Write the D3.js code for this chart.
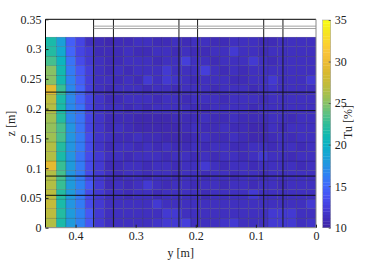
<!DOCTYPE html>
<html><head><meta charset="utf-8">
<script src="https://cdn.jsdelivr.net/npm/d3@7/dist/d3.min.js"></script>
<style>body{margin:0;background:#fff}svg{display:block}</style>
</head><body><svg id="c" width="374" height="262"></svg>
<script>
// cell edges (m)
const yEdges = [0.45,0.432,0.416,0.400,0.384,0.368,0.352,0.336,0.320,0.304,0.288,0.272,0.256,0.240,0.224,0.208,0.192,0.176,0.160,0.144,0.128,0.112,0.096,0.080,0.064,0.048,0.032,0.016,0];
const zEdges = [0,0.016,0.032,0.048,0.064,0.080,0.096,0.112,0.128,0.144,0.160,0.176,0.192,0.208,0.224,0.240,0.256,0.272,0.288,0.304,0.320];
// near-wall columns (left, y high) bottom -> top
const col0 = [26.5,27,27.5,27,26.5,26.5,29.5,26.5,26.5,26,25.5,26,26.5,27,29.5,25,25,23,22,21.5];
const col1 = [21.5,22,21.5,22,22.5,23,22.5,21.5,22,23,23,22,21.5,21.5,22.5,21,21,20.5,19,18.5];
const col2 = [18,18,17.5,18,18,17.5,18,17.5,17.5,17.5,17.5,17,17,17,16.8,16.5,16,15.5,15,14.5];
const col3 = [16.5,16.5,16,16,16.5,16,16,15.5,16,16,15.5,15.5,15.5,15,15,14.5,14,13.5,13,12.8];
const col4 = [14,14,13.5,13.5,14,13.5,13.5,13.5,13.5,13.5,13,13,13,13,12.5,12.5,12.5,12,12,11.5];
const col5 = [12.3,12.3,12.2,12.2,12.3,12.2,12.1,12,11.9,11.8,11.7,11.6,11.6,11.6,11.5,11.5,11.4,11.3,11.1,10.9];
// remaining columns (y 0.352 -> 0), rows bottom -> top
const coreRows = [
[11.5,11.4,11.3,11.5,11.4,11.6,12.3,12.3,12.4,11.5,11.4,11.5,11.6,12.3,11.5,11.4,11.5,12.2,12.3,12.2,11.5,11.6],
[11.4,11.3,11.2,11.4,11.3,11.5,12.0,12.0,11.4,11.3,11.4,11.3,11.5,11.4,11.3,11.4,11.5,12.0,12.0,12.0,11.4,11.5],
[11.3,11.2,11.4,11.3,11.2,12.3,11.4,11.3,11.2,11.4,11.3,11.2,11.4,11.3,11.2,11.4,11.3,11.2,11.3,11.4,11.3,12.3],
[11.2,11.3,11.1,11.2,11.3,11.1,11.2,11.4,11.3,11.2,11.1,11.3,11.2,11.4,11.3,12.2,11.2,11.3,11.4,11.2,11.3,11.4],
[11.1,11.2,11.0,11.3,12.3,11.2,11.1,11.3,11.2,11.1,11.3,11.2,11.1,11.3,11.2,11.1,11.3,11.2,11.1,11.3,11.2,11.4],
[11.2,11.1,11.3,11.2,11.0,11.3,11.2,11.1,11.3,11.2,11.1,11.3,11.2,11.1,11.2,11.3,11.1,11.2,11.3,11.2,11.4,11.2],
[11.1,11.0,11.2,11.3,11.1,11.2,11.3,11.0,11.2,11.3,12.3,11.2,11.1,11.2,11.3,11.1,11.2,11.4,11.2,11.3,11.1,11.3],
[11.2,11.3,11.1,11.2,11.3,11.2,11.1,11.2,11.3,11.1,11.2,11.0,11.2,11.3,11.1,11.2,12.2,11.3,11.2,11.1,11.3,11.2],
[11.1,11.2,11.3,11.1,11.2,11.0,11.2,11.1,11.0,11.2,11.1,11.3,11.2,11.1,11.0,11.2,11.3,11.1,11.2,11.3,11.1,11.4],
[11.2,11.0,11.1,11.2,11.0,11.1,10.7,10.6,10.7,11.0,11.2,11.1,11.0,11.2,11.0,10.7,10.6,11.0,11.2,11.1,11.3,11.2],
[11.1,11.2,11.0,10.6,10.7,10.6,10.7,10.6,10.9,11.2,11.0,11.1,11.2,11.0,11.0,10.7,10.6,11.2,11.1,11.3,11.2,11.4],
[11.0,11.1,11.0,10.7,10.6,10.7,10.6,10.8,11.0,11.1,11.2,11.0,11.1,11.2,11.0,11.1,10.9,11.2,11.3,11.1,11.2,11.3],
[11.2,11.3,11.1,11.2,11.0,11.2,11.3,11.4,11.2,11.0,11.1,11.3,11.2,11.4,11.3,11.1,11.2,11.4,11.3,11.2,11.4,11.5],
[11.1,11.0,11.2,11.4,11.3,11.1,11.2,11.3,11.0,11.2,11.4,11.3,11.1,11.2,11.3,11.2,11.0,11.3,11.4,11.2,11.5,11.3],
[11.0,11.2,11.3,11.2,11.1,11.4,11.3,11.1,11.2,11.3,11.2,11.0,11.2,11.3,11.2,11.1,11.3,11.9,11.2,11.4,11.3,11.5],
[11.2,11.0,11.3,11.1,12.2,11.3,12.0,11.6,11.2,11.1,11.3,11.2,11.4,11.1,11.0,11.3,11.4,12.0,11.3,11.4,11.5,12.2],
[11.1,11.2,11.0,11.3,11.2,11.4,12.0,11.2,11.3,11.2,12.4,11.3,11.0,11.2,11.1,11.3,11.2,11.4,11.3,11.5,11.2,11.4],
[11.0,11.1,11.2,11.3,11.2,11.0,11.2,11.4,12.4,11.3,11.2,11.0,11.2,11.3,11.4,12.0,11.2,11.1,11.3,11.2,11.4,11.3],
[10.9,11.0,11.2,11.0,11.1,11.3,11.2,11.0,11.2,11.1,11.0,11.2,11.3,12.0,11.2,11.3,11.1,11.2,11.4,11.2,11.3,11.5],
[10.7,10.8,11.0,11.2,11.3,11.0,11.1,11.2,11.0,11.2,11.3,11.1,11.0,11.4,11.2,11.3,11.1,11.0,11.2,11.3,11.2,11.4]
];
// structure lines (m)
const frameY = [0.370,0.337,0.228,0.197,0.087,0.055];
const frameZ = [0.2277,0.1966,0.0867,0.0544];
const topZ = [0.3385,0.3345];
const xTicks = [0.4,0.3,0.2,0.1,0];
const zTicks = [0,0.05,0.1,0.15,0.2,0.25,0.3,0.35];
const cTicks = [10,15,20,25,30,35];
const parulaStops = ["#3e26a8","#4030c0","#4540de","#4753f4","#4169fb","#2e80f3","#2394e1","#17a5d4","#0bb2c4","#14b9ae","#30bd98","#5cc182","#86c167","#a9bf4b","#c4bb39","#d8b92f","#ecbb32","#f9c43a","#fbd42e","#f5e621","#f9fb15"];

const FONT = '"Liberation Serif","Times New Roman","DejaVu Serif",serif';
const svg = d3.select("#c");
const L=45.5,R=316,T=19.3,B=227.7;
const x = d3.scaleLinear().domain([0.45,0]).range([L,R]);
const z = d3.scaleLinear().domain([0,0.35]).range([B,T]);
const interp = d3.piecewise(d3.interpolateRgb, parulaStops);
const cmin=10,cmax=35,N=64;
const color = v => { let t=(v-cmin)/(cmax-cmin); let k=Math.max(0,Math.min(N-1,Math.floor(t*N))); return interp(k/(N-1)); };

const cols=[col0,col1,col2,col3,col4,col5];
const cells=[];
for(let r=0;r<20;r++){
  for(let c=0;c<28;c++){
    const v = c<6 ? cols[c][r] : coreRows[r][c-6];
    cells.push({y0:yEdges[c],y1:yEdges[c+1],z0:zEdges[r],z1:zEdges[r+1],v});
  }
}
svg.append("clipPath").attr("id","clip").append("rect").attr("x",L).attr("y",T).attr("width",R-L).attr("height",B-T);
const g = svg.append("g").attr("clip-path","url(#clip)");
g.selectAll("rect.cell").data(cells).join("rect").attr("class","cell")
 .attr("x",d=>x(d.y0)).attr("y",d=>z(d.z1))
 .attr("width",d=>x(d.y1)-x(d.y0)).attr("height",d=>z(d.z0)-z(d.z1))
 .attr("fill",d=>color(d.v)).attr("stroke","rgba(0,0,0,0.28)").attr("stroke-width",0.5);

g.selectAll("line.fy").data(frameY).join("line")
 .attr("x1",d=>x(d)).attr("x2",d=>x(d)).attr("y1",z(0)).attr("y2",z(0.35))
 .attr("stroke","#1a1a1a").attr("stroke-width",1);
g.selectAll("line.fz").data(frameZ).join("line")
 .attr("x1",L).attr("x2",R).attr("y1",d=>z(d)).attr("y2",d=>z(d))
 .attr("stroke","#111").attr("stroke-width",1);
g.selectAll("line.tz").data(topZ).join("line")
 .attr("x1",x(frameY[0])).attr("x2",R).attr("y1",d=>z(d)).attr("y2",d=>z(d))
 .attr("stroke","#8a8a8a").attr("stroke-width",0.8);

// axes box
svg.append("line").attr("x1",L).attr("x2",R).attr("y1",T).attr("y2",T).attr("stroke","#000").attr("stroke-width",1);
svg.append("line").attr("x1",L).attr("x2",L).attr("y1",T).attr("y2",B).attr("stroke","#000").attr("stroke-width",1);
svg.append("line").attr("x1",L).attr("x2",R).attr("y1",B).attr("y2",B).attr("stroke","#888").attr("stroke-width",1);
svg.append("line").attr("x1",R).attr("x2",R).attr("y1",T).attr("y2",B).attr("stroke","#888").attr("stroke-width",1);

// ticks
const xa = svg.append("g").attr("transform",`translate(0,${B})`).call(d3.axisBottom(x).tickValues(xTicks).tickSize(-3).tickPadding(4).tickFormat(d3.format("~g")));
const za = svg.append("g").attr("transform",`translate(${L},0)`).call(d3.axisLeft(z).tickValues(zTicks).tickSize(-3).tickPadding(4).tickFormat(d3.format("~g")));
[xa,za].forEach(a=>{a.select(".domain").remove();a.selectAll("line").attr("stroke","#222");a.selectAll("text").style("font-family",FONT).style("font-size","12px").attr("fill","#222");});

svg.append("text").attr("x",(L+R)/2).attr("y",257).attr("text-anchor","middle").style("font-family",FONT).style("font-size","12px").attr("fill","#222").text("y [m]");
svg.append("text").attr("transform",`translate(15,${(T+B)/2}) rotate(-90)`).attr("text-anchor","middle").style("font-family",FONT).style("font-size","12px").attr("fill","#222").text("z [m]");

// colorbar
const cb = d3.scaleLinear().domain([cmin,cmax]).range([B,20]);
const CX=322.7,CW=8;
const levels=d3.range(N);
svg.selectAll("rect.cb").data(levels).join("rect")
 .attr("x",CX).attr("width",CW)
 .attr("y",k=>cb(cmin+(k+1)*(cmax-cmin)/N)).attr("height",k=>cb(cmin+k*(cmax-cmin)/N)-cb(cmin+(k+1)*(cmax-cmin)/N)+0.3)
 .attr("fill",k=>interp(k/(N-1)));
svg.append("rect").attr("x",CX).attr("y",20).attr("width",CW).attr("height",B-20).attr("fill","none").attr("stroke","#999").attr("stroke-width",0.5);
const ca = svg.append("g").attr("transform",`translate(${CX+CW},0)`).call(d3.axisRight(cb).tickValues(cTicks).tickSize(-2).tickPadding(4));
ca.select(".domain").remove();
ca.selectAll("line").attr("stroke","#555");
ca.selectAll("text").style("font-family",FONT).style("font-size","12px").attr("fill","#222");
svg.append("text").attr("transform",`translate(352,122) rotate(-90)`).attr("text-anchor","middle").style("font-family",FONT).style("font-size","12px").attr("fill","#222").text("Tu [%]");
</script></body></html>
